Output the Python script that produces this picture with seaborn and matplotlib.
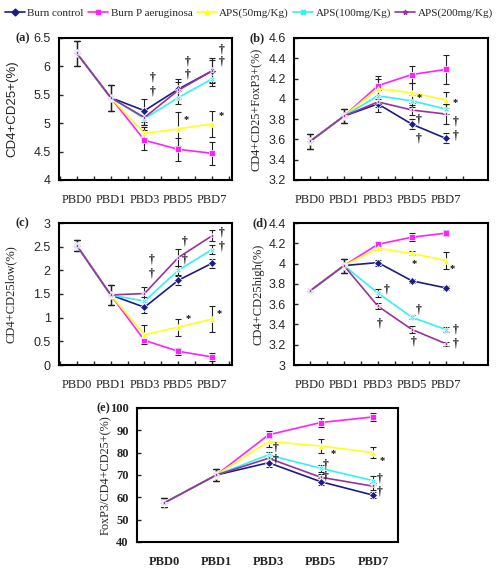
import matplotlib
matplotlib.use("Agg")
import matplotlib.pyplot as plt
import seaborn as sns
import pandas as pd
import numpy as np
from matplotlib.lines import Line2D

days = ["PBD0", "PBD1", "PBD3", "PBD5", "PBD7"]
groups = ["Burn control", "Burn P aeruginosa", "APS(50mg/Kg)", "APS(100mg/Kg)", "APS(200mg/Kg)"]
colors = ["#1c1c86", "#ff22ff", "#ffff1a", "#33f2f2", "#993399"]
markers = ["D", "s", "^", "X", "*"]

# panel (a) CD4+CD25+(%)
a_vals = {
    "Burn control":      [6.23, 5.45, 5.22, 5.60, 5.92],
    "Burn P aeruginosa": [6.23, 5.45, 4.70, 4.54, 4.47],
    "APS(50mg/Kg)":      [6.23, 5.45, 4.82, 4.90, 4.99],
    "APS(100mg/Kg)":     [6.23, 5.45, 5.08, 5.45, 5.78],
    "APS(200mg/Kg)":     [6.23, 5.45, 5.10, 5.58, 5.92],
}
a_err = {
    "Burn control":      [0.22, 0.23, 0.20, 0.18, 0.22],
    "Burn P aeruginosa": [0.22, 0.23, 0.18, 0.20, 0.20],
    "APS(50mg/Kg)":      [0.22, 0.23, 0.12, 0.30, 0.23],
    "APS(100mg/Kg)":     [0.22, 0.23, 0.12, 0.12, 0.12],
    "APS(200mg/Kg)":     [0.22, 0.23, 0.14, 0.15, 0.20],
}
# panel (b) CD4+CD25+FoxP3+(%)
b_vals = {
    "Burn control":      [3.58, 3.83, 3.95, 3.75, 3.61],
    "Burn P aeruginosa": [3.58, 3.83, 4.13, 4.24, 4.29],
    "APS(50mg/Kg)":      [3.58, 3.83, 4.10, 4.06, 3.99],
    "APS(100mg/Kg)":     [3.58, 3.83, 4.03, 3.98, 3.90],
    "APS(200mg/Kg)":     [3.58, 3.83, 3.97, 3.89, 3.85],
}
b_err = {
    "Burn control":      [0.07, 0.07, 0.08, 0.05, 0.05],
    "Burn P aeruginosa": [0.07, 0.07, 0.10, 0.08, 0.14],
    "APS(50mg/Kg)":      [0.07, 0.07, 0.10, 0.10, 0.08],
    "APS(100mg/Kg)":     [0.07, 0.07, 0.06, 0.06, 0.05],
    "APS(200mg/Kg)":     [0.07, 0.07, 0.05, 0.05, 0.10],
}
# panel (c) CD4+CD25low(%)
c_vals = {
    "Burn control":      [2.52, 1.48, 1.22, 1.79, 2.15],
    "Burn P aeruginosa": [2.52, 1.48, 0.52, 0.29, 0.17],
    "APS(50mg/Kg)":      [2.52, 1.48, 0.64, 0.80, 0.97],
    "APS(100mg/Kg)":     [2.52, 1.48, 1.35, 2.00, 2.44],
    "APS(200mg/Kg)":     [2.52, 1.48, 1.51, 2.27, 2.73],
}
c_err = {
    "Burn control":      [0.12, 0.22, 0.12, 0.10, 0.10],
    "Burn P aeruginosa": [0.12, 0.22, 0.06, 0.07, 0.09],
    "APS(50mg/Kg)":      [0.12, 0.22, 0.20, 0.18, 0.28],
    "APS(100mg/Kg)":     [0.12, 0.22, 0.08, 0.10, 0.10],
    "APS(200mg/Kg)":     [0.12, 0.22, 0.13, 0.18, 0.12],
}
# panel (d) CD4+CD25high(%)
d_vals = {
    "Burn control":      [3.73, 3.98, 4.01, 3.83, 3.76],
    "Burn P aeruginosa": [3.73, 3.98, 4.19, 4.26, 4.30],
    "APS(50mg/Kg)":      [3.73, 3.98, 4.15, 4.10, 4.03],
    "APS(100mg/Kg)":     [3.73, 3.98, 3.71, 3.47, 3.35],
    "APS(200mg/Kg)":     [3.73, 3.98, 3.58, 3.35, 3.21],
}
d_err = {
    "Burn control":      [0.01, 0.07, 0.03, 0.02, 0.02],
    "Burn P aeruginosa": [0.01, 0.07, 0.02, 0.04, 0.03],
    "APS(50mg/Kg)":      [0.01, 0.07, 0.02, 0.02, 0.08],
    "APS(100mg/Kg)":     [0.01, 0.07, 0.04, 0.02, 0.02],
    "APS(200mg/Kg)":     [0.01, 0.07, 0.03, 0.03, 0.02],
}
# panel (e) FoxP3/CD4+CD25+(%)
e_vals = {
    "Burn control":      [57.5, 70.0, 75.5, 67.0, 61.0],
    "Burn P aeruginosa": [57.5, 70.0, 88.0, 93.5, 96.0],
    "APS(50mg/Kg)":      [57.5, 70.0, 85.0, 83.0, 80.0],
    "APS(100mg/Kg)":     [57.5, 70.0, 79.0, 73.0, 67.5],
    "APS(200mg/Kg)":     [57.5, 70.0, 77.5, 69.0, 65.0],
}
e_err = {
    "Burn control":      [2.0, 2.5, 2.0, 1.5, 1.2],
    "Burn P aeruginosa": [2.0, 2.5, 1.5, 2.0, 1.8],
    "APS(50mg/Kg)":      [2.0, 2.5, 2.5, 3.0, 2.5],
    "APS(100mg/Kg)":     [2.0, 2.5, 1.5, 1.5, 2.0],
    "APS(200mg/Kg)":     [2.0, 2.5, 1.5, 1.5, 1.5],
}

# significance marks: (day index, horizontal offset, y value, symbol)
a_marks = [(2, 0.25, 5.80, "†"), (2, 0.25, 5.55, "†"), (3, 0.28, 6.08, "†"), (3, 0.28, 5.86, "†"),
           (4, 0.27, 6.30, "†"), (4, 0.27, 6.08, "†"), (3, 0.22, 5.06, "*"), (4, 0.27, 5.13, "*")]
b_marks = [(3, 0.20, 4.01, "*"), (4, 0.26, 3.96, "*"), (3, 0.20, 3.80, "†"), (3, 0.20, 3.61, "†"),
           (4, 0.30, 3.78, "†"), (4, 0.30, 3.64, "†")]
c_marks = [(2, 0.21, 2.22, "†"), (2, 0.21, 1.94, "†"), (3, 0.18, 2.61, "†"), (3, 0.18, 2.22, "†"),
           (4, 0.27, 2.79, "†"), (4, 0.27, 2.50, "†"), (3, 0.28, 0.99, "*"), (4, 0.21, 1.09, "*")]
d_marks = [(2, 0.25, 3.74, "†"), (2, 0.05, 3.41, "†"), (3, 0.20, 3.55, "†"), (3, 0.05, 3.23, "†"),
           (4, 0.30, 3.35, "†"), (4, 0.30, 3.21, "†"), (3, 0.08, 4.00, "*"), (4, 0.18, 3.95, "*")]
e_marks = [(2, 0.14, 82.5, "†"), (2, 0.14, 77.0, "†"), (3, 0.10, 74.5, "†"), (3, 0.10, 69.5, "†"),
           (4, 0.12, 68.5, "†"), (4, 0.12, 62.5, "†"), (3, 0.24, 79.5, "*"), (4, 0.17, 76.3, "*")]

sns.set_style("white")
plt.rcParams["font.family"] = ["Liberation Serif", "DejaVu Serif"]

W, H = 498, 570
fig = plt.figure(figsize=(W / 100, H / 100), dpi=100)


def px(l, t, r, b):
    return [l / W, 1 - b / H, (r - l) / W, (b - t) / H]


def long_df(vals):
    rows = []
    for g in groups:
        for i, v in enumerate(vals[g]):
            rows.append({"day": i, "group": g, "value": v})
    return pd.DataFrame(rows)


def panel(rect, vals, errs, marks, ylim, yticks, ylabel, tag, xlim, tickfont, ylab_x, tag_x,
          ylab_size=9.5, bold=False, minor=True):
    ax = fig.add_axes(px(*rect))
    df = long_df(vals)
    for g in groups:
        ax.errorbar(range(5), vals[g], yerr=errs[g], fmt="none", ecolor="#222222", elinewidth=0.8,
                    capsize=2.3, capthick=0.8, zorder=2)
    sns.lineplot(data=df, x="day", y="value", hue="group", style="group", hue_order=groups,
                 style_order=groups, palette=colors, markers=markers, dashes=False, ax=ax,
                 legend=False, linewidth=1.2, markersize=3.8, markeredgewidth=0.5, zorder=3)
    for (i, dx, y, s) in marks:
        ax.text(i + dx, y, s, fontsize=8.5 if s == "†" else 7.5, fontweight="bold",
                color="#111111", ha="center", va="center", zorder=4)
    ax.set_xlim(*xlim)
    ax.set_ylim(*ylim)
    ax.set_yticks(yticks)
    ax.set_yticklabels([("%g" % t) for t in yticks], family=tickfont, fontsize=9,
                       fontweight="bold" if bold else "normal")
    ax.set_xticks(range(5))
    ax.set_xticklabels(days, fontsize=9, fontweight="bold" if bold else "normal")
    if minor:
        mids = np.arange(-0.5, 5, 1.0)
        ax.set_xticks(mids[(mids > xlim[0]) & (mids < xlim[1])], minor=True)
        ax.tick_params(axis="x", which="both", direction="in", length=3, width=1, bottom=True)
    else:
        ax.tick_params(axis="x", which="both", length=0)
    ax.tick_params(axis="x", which="major", pad=10)
    ax.tick_params(axis="y", direction="in", length=3, width=1, left=True, pad=6)
    ax.set_xlabel("")
    ax.set_ylabel(ylabel, family=["Liberation Sans"] if tag == "(a)" else ["Liberation Serif"],
                  fontsize=ylab_size)
    ax.yaxis.set_label_coords(ylab_x, 0.5)
    for sp in ax.spines.values():
        sp.set_color("black")
        sp.set_linewidth(1.5)
    ax.text(tag_x, 1.0, tag, transform=ax.transAxes, fontsize=9, fontweight="bold",
            ha="center", va="center")
    return ax


xl_a = (-0.53, 4.59)
xl_b = (-0.47, 5.24)
panel((59, 38, 232, 180), a_vals, a_err, a_marks, (4, 6.5), [4, 4.5, 5, 5.5, 6, 6.5],
      "CD4+CD25+(%)", "(a)", xl_a, ["Liberation Sans"], -0.237, -0.21, ylab_size=9.5)
panel((294, 38, 488, 180), b_vals, b_err, b_marks, (3.2, 4.6), [3.2, 3.4, 3.6, 3.8, 4.0, 4.2, 4.4, 4.6],
      "CD4+CD25+FoxP3+(%)", "(b)", xl_b, ["Liberation Sans"], -0.16, -0.19, ylab_size=8.8)
panel((59, 223, 232, 365), c_vals, c_err, c_marks, (0, 3), [0, 0.5, 1, 1.5, 2, 2.5, 3],
      "CD4+CD25low(%)", "(c)", xl_a, ["Liberation Sans"], -0.243, -0.21, ylab_size=9)
panel((294, 223, 488, 365), d_vals, d_err, d_marks, (3, 4.4), [3, 3.2, 3.4, 3.6, 3.8, 4.0, 4.2, 4.4],
      "CD4+CD25high(%)", "(d)", xl_b, ["Liberation Sans"], -0.15, -0.175, ylab_size=9)
panel((137, 408, 398, 542), e_vals, e_err, e_marks, (40, 100), [40, 50, 60, 70, 80, 90, 100],
      "FoxP3/CD4+CD25+(%)", "(e)", (-0.52, 4.48), ["Liberation Serif"], -0.095, -0.13,
      ylab_size=8.8, bold=True, minor=False)

handles = [Line2D([], [], color=c, marker=m, markersize=3.5, linewidth=1.2) for c, m in zip(colors, markers)]
fig.legend(handles, groups, loc="upper center", bbox_to_anchor=(0.5, 1.0), ncol=5, frameon=False,
           fontsize=8, handlelength=1.8, handletextpad=0.2, columnspacing=0.4, borderaxespad=0.3)

fig.savefig("out.png", dpi=100)
